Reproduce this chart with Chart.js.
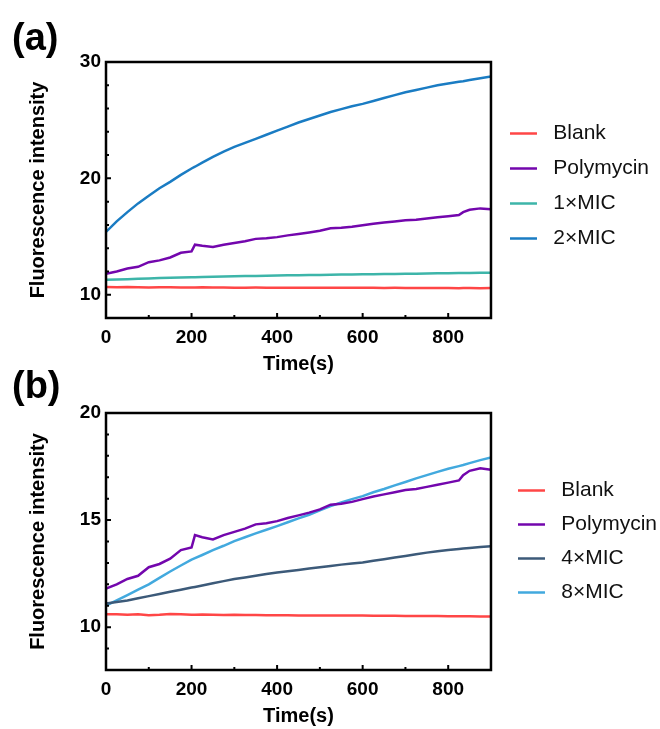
<!DOCTYPE html>
<html>
<head>
<meta charset="utf-8">
<script src="https://cdn.jsdelivr.net/npm/chart.js@4/dist/chart.umd.min.js"></script>
<style>
  html, body { margin: 0; padding: 0; background: #fff; }
  #wrap { position: relative; width: 660px; height: 729px; font-family: "Liberation Sans", Arial, sans-serif; }
  .panel { position: absolute; left: 0; }
  #boxA { top: 0; }
  #boxB { top: 385px; }
  .tag { position: absolute; left: 12px; font-weight: bold; font-size: 38px; line-height: 1; color: #000; }
</style>
</head>
<body>
<div id="wrap">
  <div class="panel" id="boxA"><canvas id="chartA" width="660" height="385"></canvas></div>
  <div class="panel" id="boxB"><canvas id="chartB" width="660" height="344"></canvas></div>
  <div class="tag" style="top:18px">(a)</div>
  <div class="tag" style="top:366px">(b)</div>
</div>
<script>
// time points (s), shared by every trace
const timeS = [0, 25, 50, 75, 100, 125, 150, 175, 200, 208, 225, 250, 275, 300, 325, 350, 375, 400, 425,
  450, 475, 500, 525, 550, 575, 600, 625, 650, 675, 700, 725, 750, 775, 800, 825, 835, 850, 875, 900];

// panel (a)
const blankA = [10.66, 10.65, 10.66, 10.64, 10.63, 10.65, 10.64, 10.63, 10.62, 10.63, 10.64, 10.63, 10.62,
  10.6, 10.61, 10.62, 10.61, 10.6, 10.61, 10.6, 10.6, 10.61, 10.6, 10.59, 10.6, 10.6, 10.59, 10.58, 10.59,
  10.58, 10.58, 10.57, 10.58, 10.57, 10.56, 10.57, 10.57, 10.56, 10.57];
const polymycin = [11.8, 12.0, 12.25, 12.4, 12.8, 12.95, 13.2, 13.6, 13.72, 14.3, 14.2, 14.1, 14.3, 14.45,
  14.6, 14.8, 14.85, 14.95, 15.1, 15.22, 15.35, 15.5, 15.72, 15.76, 15.85, 15.98, 16.1, 16.2, 16.3, 16.4,
  16.45, 16.55, 16.65, 16.75, 16.85, 17.1, 17.3, 17.42, 17.35];
const mic1 = [11.28, 11.31, 11.34, 11.37, 11.4, 11.43, 11.45, 11.48, 11.5, 11.51, 11.53, 11.55, 11.57, 11.59,
  11.61, 11.62, 11.64, 11.65, 11.67, 11.68, 11.69, 11.7, 11.71, 11.73, 11.74, 11.75, 11.76, 11.78, 11.79,
  11.8, 11.81, 11.82, 11.84, 11.85, 11.86, 11.86, 11.87, 11.88, 11.89];
const mic2 = [15.4, 16.3, 17.1, 17.85, 18.5, 19.15, 19.7, 20.3, 20.85, 21.0, 21.35, 21.85, 22.3, 22.7, 23.05,
  23.4, 23.75, 24.1, 24.45, 24.8, 25.1, 25.4, 25.7, 25.95, 26.2, 26.4, 26.65, 26.9, 27.15, 27.4, 27.6, 27.8,
  28.0, 28.15, 28.3, 28.35, 28.45, 28.6, 28.75];

// panel (b)
const blankB = [10.6, 10.6, 10.58, 10.6, 10.56, 10.58, 10.62, 10.6, 10.58, 10.58, 10.59, 10.58, 10.57, 10.58,
  10.57, 10.57, 10.56, 10.56, 10.56, 10.55, 10.55, 10.55, 10.55, 10.54, 10.54, 10.54, 10.53, 10.53, 10.53,
  10.52, 10.52, 10.52, 10.52, 10.51, 10.51, 10.51, 10.51, 10.5, 10.5];
const mic4 = [11.1, 11.17, 11.25, 11.35, 11.45, 11.55, 11.65, 11.75, 11.85, 11.88, 11.95, 12.05, 12.15, 12.25,
  12.32, 12.4, 12.48, 12.55, 12.61, 12.67, 12.74, 12.8, 12.86, 12.92, 12.97, 13.02, 13.1, 13.17, 13.25,
  13.32, 13.4, 13.48, 13.55, 13.6, 13.65, 13.67, 13.7, 13.74, 13.78];
const mic8 = [11.0, 11.25, 11.5, 11.75, 12.0, 12.3, 12.6, 12.88, 13.15, 13.22, 13.37, 13.6, 13.8, 14.02, 14.2,
  14.38, 14.55, 14.72, 14.9, 15.08, 15.25, 15.45, 15.65, 15.82, 15.98, 16.12, 16.3, 16.45, 16.62, 16.78,
  16.95, 17.1, 17.25, 17.4, 17.52, 17.57, 17.66, 17.8, 17.92];

const FONT = 'Liberation Sans';
Chart.defaults.font.family = FONT;
Chart.defaults.color = '#000';

// Prism-style frame with short inward tick marks (long on labelled values)
const frameTicks = {
  id: 'frameTicks',
  afterDraw(chart, args, opts) {
    const { ctx, chartArea: a } = chart;
    const xs = chart.scales.x, ys = chart.scales.y;
    ctx.save();
    ctx.strokeStyle = '#000';
    ctx.lineWidth = 2;
    ctx.beginPath();
    xs.ticks.forEach(t => {
      const px = xs.getPixelForValue(t.value);
      const len = t.value % opts.xMajor === 0 ? 5 : 3;
      ctx.moveTo(px, a.bottom);
      ctx.lineTo(px, a.bottom - len);
    });
    ys.ticks.forEach(t => {
      const py = ys.getPixelForValue(t.value);
      const len = t.value % opts.yMajor === 0 ? 5 : 3;
      ctx.moveTo(a.left, py);
      ctx.lineTo(a.left + len, py);
    });
    ctx.stroke();
    ctx.lineWidth = 2.5;
    ctx.strokeRect(a.left, a.top, a.right - a.left, a.bottom - a.top);
    ctx.restore();
  }
};

// moves the legend box a little away from the frame once layout is done
const legendNudge = {
  id: 'legendNudge',
  afterLayout(chart, args, opts) {
    const l = chart.legend;
    l.left += opts.dx; l.right += opts.dx;
    l.top += opts.dy; l.bottom += opts.dy;
  }
};

// default legend entries with a little extra room before the text
const spacedLabels = chart =>
  Chart.defaults.plugins.legend.labels.generateLabels(chart).map(item => ({ ...item, text: ' ' + item.text }));

function series(label, values, color) {
  return {
    label,
    data: timeS.map((t, i) => ({ x: t, y: values[i] })),
    borderColor: color,
    backgroundColor: color,
    borderWidth: 2.5,
    pointRadius: 0,
    tension: 0
  };
}

function drawPanel(id, datasets, cfg) {
  const canvas = document.getElementById(id);
  const H = canvas.height;
  return new Chart(canvas, {
    type: 'line',
    data: { datasets },
    plugins: [frameTicks, legendNudge],
    options: {
      responsive: false,
      animation: false,
      layout: { padding: { top: cfg.top, left: 0, right: cfg.padRight, bottom: 0 } },
      plugins: {
        tooltip: { enabled: false },
        frameTicks: { xMajor: 200, yMajor: cfg.yMajor },
        legendNudge: { dx: cfg.dx, dy: cfg.dy },
        legend: {
          position: 'right',
          fullSize: false,
          labels: {
            usePointStyle: true,
            pointStyle: 'line',
            pointStyleWidth: 27,
            padding: cfg.legendPad,
            color: '#111',
            font: { family: FONT, size: 21 },
            generateLabels: spacedLabels
          }
        }
      },
      scales: {
        x: {
          type: 'linear',
          min: 0,
          max: 900,
          grid: { display: false, drawTicks: false },
          border: { display: false },
          ticks: {
            stepSize: 100,
            autoSkip: false,
            maxRotation: 0,
            padding: 8,
            font: { size: 19, weight: 'bold' },
            callback: v => (v % 200 === 0 ? v : '')
          },
          title: {
            display: true,
            text: 'Time(s)',
            font: { size: 20, weight: 'bold' },
            padding: { top: 0, bottom: cfg.titlePad }
          },
          afterFit: s => { s.height = H - cfg.bottom; }
        },
        y: {
          min: cfg.yMin,
          max: cfg.yMax,
          grid: { display: false, drawTicks: false },
          border: { display: false },
          ticks: {
            stepSize: cfg.yStep,
            autoSkip: false,
            padding: 5,
            font: { size: 19, weight: 'bold' },
            callback: v => (v % cfg.yMajor === 0 ? v : '')
          },
          title: {
            display: true,
            text: 'Fluorescence intensity',
            font: { size: 20, weight: 'bold' },
            padding: { top: 26, bottom: 0 }
          },
          afterFit: s => { s.width = 106; }
        }
      }
    }
  });
}

drawPanel('chartA', [
  series('Blank', blankA, '#ff4646'),
  series('Polymycin', polymycin, '#7306ad'),
  series('1×MIC', mic1, '#3db5a9'),
  series('2×MIC', mic2, '#1a7cc3')
], { top: 62, bottom: 318, yMin: 8, yMax: 30, yStep: 2, yMajor: 10, legendPad: 14, padRight: 6, dx: 5, dy: -4, titlePad: 9 });

drawPanel('chartB', [
  series('Blank', blankB, '#ff4646'),
  series('Polymycin', polymycin, '#7306ad'),
  series('4×MIC', mic4, '#3c5a79'),
  series('8×MIC', mic8, '#42a9de')
], { top: 28, bottom: 285, yMin: 8, yMax: 20, yStep: 1, yMajor: 5, legendPad: 13, padRight: 7, dx: 14, dy: 0, titlePad: 1 });
</script>
</body>
</html>
